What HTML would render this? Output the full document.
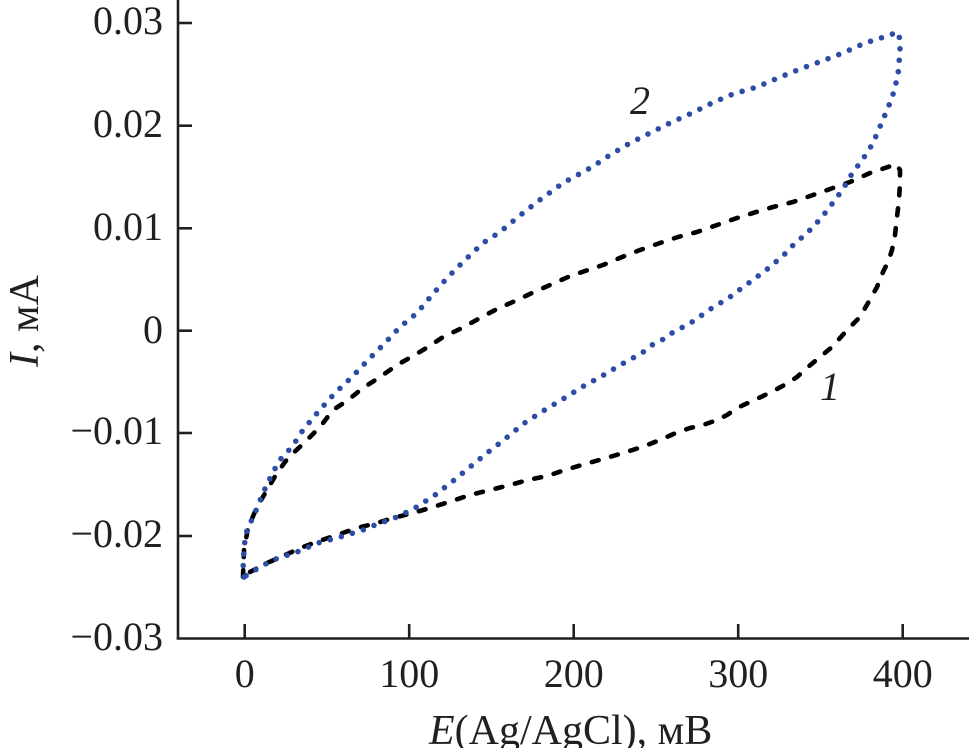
<!DOCTYPE html>
<html>
<head>
<meta charset="utf-8">
<style>
  html,body{margin:0;padding:0;background:#fff;}
  svg{display:block;}
  text{font-family:"Liberation Serif","DejaVu Serif",serif;fill:#231f20;}
</style>
</head>
<body>
<svg width="969" height="748" viewBox="0 0 969 748" xmlns="http://www.w3.org/2000/svg">
  <!-- axes -->
  <g stroke="#231f20" stroke-width="2.6" fill="none">
    <line x1="178" y1="0" x2="178" y2="639.5"/>
    <line x1="176.7" y1="638.5" x2="969" y2="638.5"/>
    <!-- y ticks -->
    <line x1="178" y1="23" x2="192" y2="23"/>
    <line x1="178" y1="125.7" x2="192" y2="125.7"/>
    <line x1="178" y1="228.3" x2="192" y2="228.3"/>
    <line x1="178" y1="330.7" x2="192" y2="330.7"/>
    <line x1="178" y1="433" x2="192" y2="433"/>
    <line x1="178" y1="536" x2="192" y2="536"/>
    <!-- x ticks -->
    <line x1="244.7" y1="624" x2="244.7" y2="638"/>
    <line x1="409.2" y1="624" x2="409.2" y2="638"/>
    <line x1="573.7" y1="624" x2="573.7" y2="638"/>
    <line x1="738.2" y1="624" x2="738.2" y2="638"/>
    <line x1="902.7" y1="624" x2="902.7" y2="638"/>
  </g>

  <!-- y tick labels -->
  <g font-size="40" text-anchor="end">
    <text x="163" y="34">0.03</text>
    <text x="163" y="137">0.02</text>
    <text x="163" y="240">0.01</text>
    <text x="163" y="343">0</text>
    <text x="163" y="444">−0.01</text>
    <text x="163" y="547">−0.02</text>
    <text x="163" y="650">−0.03</text>
  </g>

  <!-- x tick labels -->
  <g font-size="40" text-anchor="middle">
    <text x="244.7" y="687">0</text>
    <text x="409.2" y="687">100</text>
    <text x="573.7" y="687">200</text>
    <text x="738.2" y="687">300</text>
    <text x="902.7" y="687">400</text>
  </g>

  <!-- axis titles -->
  <text x="429" y="744" font-size="42"><tspan font-style="italic">E</tspan>(Ag/AgCl), мВ</text>
  <text transform="translate(38,367) rotate(-90)" font-size="42"><tspan font-style="italic">I</tspan>, мА</text>

  <!-- curve 1 black dashed -->
  <polyline fill="none" stroke="#000" stroke-width="4.6" stroke-dasharray="7 13" stroke-linecap="round" stroke-linejoin="round"
    points="243,577 244,550 248,528 257,507 267,490 277,473 288,458 305,442 320,427 333,410 348,400 363,388 380,377 397,365 413,356 428,347 443,337 462,328 480,318 497,309 515,301 532,293 550,285 568,277 585,271 603,265 622,257 640,250 660,243 678,237 697,232 717,225 737,218 753,213 773,207 793,202 813,195 833,188 850,182 870,173 888,167 896,164 900,170 900,183 899,200 897,217 895,235 892,250 888,262 883,272 877,287 868,303 860,317 850,327 840,338 832,347 820,357 808,367 797,377 788,383 777,389 763,396 750,402 737,408 727,415 717,420 703,425 690,428 678,432 660,440 642,447 623,453 603,459 585,464 565,470 547,476 528,480 510,485 490,490 470,495 452,501 433,507 413,513 393,518 377,523 357,528 337,535 322,540 303,547 285,555 267,563 250,572 243,577"/>

  <!-- curve 2 blue dotted -->
  <polyline fill="none" stroke="#2d4ca6" stroke-width="5.6" stroke-dasharray="0 11.5" stroke-linecap="round" stroke-linejoin="round"
    points="244,577 243,570 244,547 247,530 255,513 263,493 273,472 282,457 292,447 303,430 318,412 335,393 352,377 368,360 383,345 400,327 417,313 432,295 448,277 465,260 483,243 500,232 518,217 537,202 563,183 592,167 610,155 630,143 650,133 670,123 692,113 712,103 733,94 757,87 778,78 800,69 822,61 843,53 865,43 887,36 898,32 900,40 900,52 899,63 898,75 895,87 892,98 887,110 882,122 873,143 867,153 860,163 853,172 843,189 835,200 822,217 813,227 805,235 795,243 787,252 778,260 770,267 762,273 753,280 743,287 733,295 722,302 712,308 702,315 692,322 683,327 672,333 662,340 652,345 642,353 622,364 602,376 582,387 563,399 543,411 523,424 505,439 487,453 470,467 453,481 435,495 415,508 397,517 375,525 363,530 340,537 318,543 297,552 273,560 260,567 244,577"/>

  <!-- curve labels -->
  <text x="630" y="114" font-size="40" font-style="italic">2</text>
  <text x="820" y="400" font-size="40" font-style="italic">1</text>
</svg>
</body>
</html>
